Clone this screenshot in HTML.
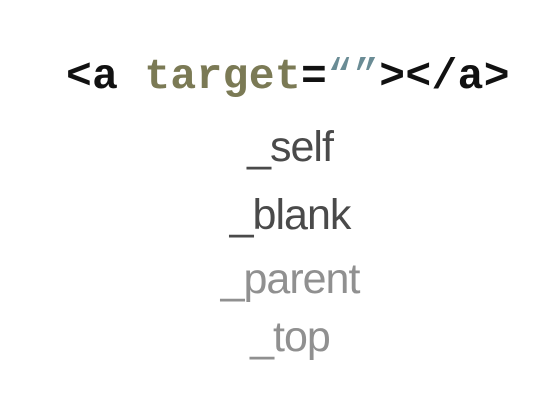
<!DOCTYPE html>
<html><head><style>
html,body{margin:0;padding:0;background:#fff;width:560px;height:404px;overflow:hidden;position:relative}
.code{position:absolute;left:66px;top:52px;font-family:"Liberation Mono",monospace;font-weight:bold;font-size:43px;line-height:50px;color:#111;white-space:pre;letter-spacing:0.3px}
.g{color:#7b7a55}.q{color:#6a8c95;font-weight:normal}
.w{position:absolute;left:0;width:580px;text-align:center;font-family:"Liberation Sans",sans-serif;font-size:43px;line-height:50px;letter-spacing:-1px}
</style></head><body>
<div class="code">&lt;a <span class="g">target</span>=<span class="q">“”</span>&gt;&lt;/a&gt;</div>
<div class="w" style="top:122px;color:#4a4a4a">_self</div>
<div class="w" style="top:190px;color:#4a4a4a">_blank</div>
<div class="w" style="top:254px;color:#909090">_parent</div>
<div class="w" style="top:312px;color:#909090">_top</div>
</body></html>
